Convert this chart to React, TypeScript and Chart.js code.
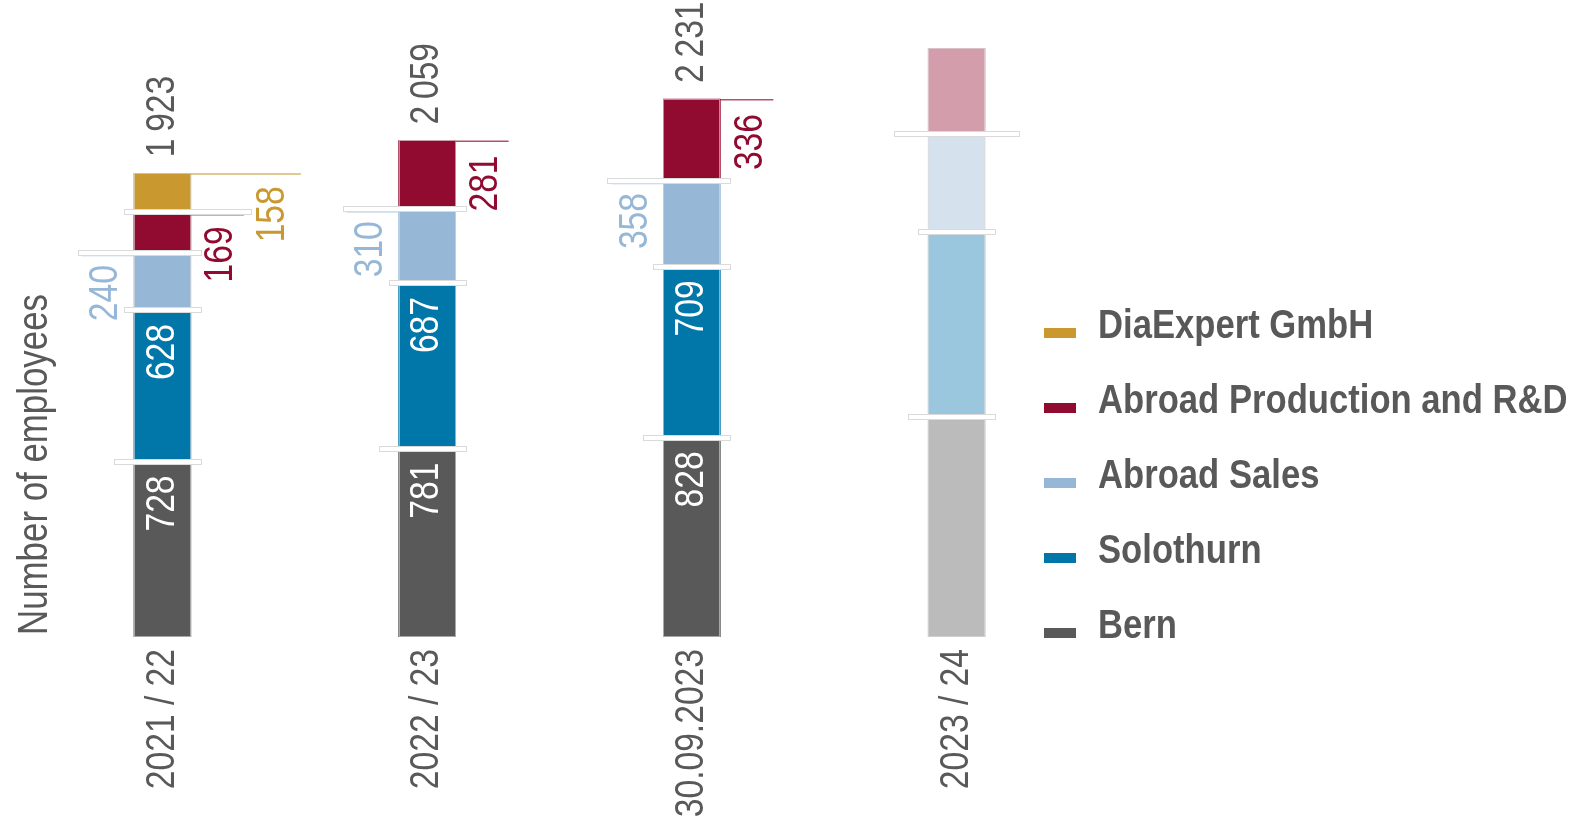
import React, { useEffect, useRef } from "react";
import { Chart, registerables } from "chart.js";

Chart.register(...registerables);

// ---- data ----
const categories = ["2021 / 22", "2022 / 23", "30.09.2023", "2023 / 24"];
const bern = [728, 781, 828, 913];
const solothurn = [628, 687, 709, 768];
const abroadSales = [240, 310, 358, 407];
const abroadProduction = [169, 281, 336, 353];
const diaExpert = [158, null, null, null];
const seriesNames = ["Bern", "Solothurn", "Abroad Sales", "Abroad Production and R&D", "DiaExpert GmbH"];
const labelledCategories = [true, true, true, false];
const axisTitle = "Number of employees";

// ---- styles ----
const seriesColors = ["#595959", "#0077a8", "#97b7d6", "#910a2f", "#c9982f"];
const forecastColors = ["#bbbbbb", "#9bc7de", "#d5e2ee", "#d49dab", "#e4cc97"];
const labelSides = ["inside", "inside", "left", "right", "far"];
const TEXT = "#595959";
const FONT = "'Liberation Sans', Arial, sans-serif";
const NARROW = 0.82; // emulate a condensed face

const seriesData = [bern, solothurn, abroadSales, abroadProduction, diaExpert];

function fmt(n: number): string {
  if (n >= 1000) return `${Math.floor(n / 1000)}\u2009${String(n % 1000).padStart(3, "0")}`;
  return String(n);
}

function drawText(
  ctx: CanvasRenderingContext2D,
  text: string,
  x: number,
  y: number,
  opts: { rotate?: boolean; align: CanvasTextAlign; baseline?: CanvasTextBaseline; font: string; color: string; sx?: number }
) {
  ctx.save();
  ctx.translate(x, y);
  if (opts.rotate) ctx.rotate(-Math.PI / 2);
  ctx.scale(opts.sx ?? NARROW, 1);
  ctx.font = opts.font;
  ctx.textAlign = opts.align;
  ctx.textBaseline = opts.baseline ?? "middle";
  ctx.fillStyle = opts.color;
  ctx.fillText(text, 0, 0);
  ctx.restore();
}

const VALUE_FONT = `41px ${FONT}`;
const rot = (ctx: CanvasRenderingContext2D, t: string, x: number, y: number, align: CanvasTextAlign, color: string) =>
  drawText(ctx, t, x, y, { rotate: true, align, font: VALUE_FONT, color });

const LEADER = { left: 52, right: 53, far: 110 };

const segmentPlugin = {
  id: "segmentDecor",
  afterDatasetsDraw(chart: any) {
    const ctx: CanvasRenderingContext2D = chart.ctx;
    const nDs = chart.data.datasets.length;
    categories.forEach((_, i) => {
      const segs: any[] = [];
      for (let d = 0; d < nDs; d++) {
        const v = chart.data.datasets[d].data[i];
        const el = chart.getDatasetMeta(d).data[i];
        if (v == null || !el) continue;
        const p = el.getProps(["x", "y", "base", "width"], true);
        segs.push({ d, v, top: p.y, bottom: p.base, left: p.x - p.width / 2, right: p.x + p.width / 2, cx: p.x });
      }
      const show = labelledCategories[i];
      // faint bar edges
      segs.forEach((s) => {
        ctx.save();
        ctx.strokeStyle = "rgba(220,220,220,0.6)";
        ctx.lineWidth = 1;
        ctx.strokeRect(Math.round(s.left) + 0.5, Math.round(s.top) + 0.5, Math.round(s.right - s.left) - 1, Math.round(s.bottom - s.top) - 1);
        ctx.restore();
      });
      // leader lines
      if (show) {
        segs.forEach((s, k) => {
          const side = labelSides[s.d];
          if (side === "inside") return;
          const isTop = k === segs.length - 1;
          const y = isTop ? s.top + 0.75 : s.top + 3.5;
          ctx.save();
          ctx.strokeStyle = seriesColors[s.d];
          ctx.globalAlpha = 0.7;
          ctx.lineWidth = 1.5;
          ctx.beginPath();
          if (side === "left") {
            ctx.moveTo(s.left, y);
            ctx.lineTo(s.left - LEADER.left, y);
          } else {
            const len = side === "far" ? LEADER.far : LEADER.right;
            ctx.moveTo(s.right, y);
            ctx.lineTo(s.right + len, y);
          }
          ctx.stroke();
          ctx.restore();
        });
      }
      // separator tabs
      segs.forEach((s, k) => {
        if (k === segs.length - 1) return;
        const side = labelSides[s.d];
        let le = k === 0 ? 20 : 10;
        let re = 10;
        if (show && side === "left") le = LEADER.left + 4;
        if (show && side === "right") re = LEADER.right + 7;
        if (show && side === "far") re = LEADER.far + 7;
        if (!show && k === segs.length - 2) {
          le = 34;
          re = 34;
        }
        const x0 = Math.round(s.left - le) + 0.5;
        const x1 = Math.round(s.right + re) + 0.5;
        const y0 = Math.round(s.top - 2.5) + 0.5;
        ctx.save();
        ctx.fillStyle = "#ffffff";
        ctx.strokeStyle = "#dadada";
        ctx.lineWidth = 1;
        ctx.fillRect(x0, y0, x1 - x0, 5);
        ctx.strokeRect(x0, y0, x1 - x0, 5);
        ctx.restore();
      });
      if (!show) return;
      // value labels
      segs.forEach((s) => {
        const side = labelSides[s.d];
        const txt = fmt(s.v);
        if (side === "inside") rot(ctx, txt, s.cx, s.top + 14, "right", "#ffffff");
        else if (side === "left") rot(ctx, txt, s.left - 28, s.top + 13, "right", seriesColors[s.d]);
        else if (side === "right") rot(ctx, txt, s.right + 30, s.top + 15, "right", seriesColors[s.d]);
        else rot(ctx, txt, s.right + 82, s.top + 13, "right", seriesColors[s.d]);
      });
      // total
      const total = segs.reduce((a, s) => a + s.v, 0);
      const top = segs[segs.length - 1];
      rot(ctx, fmt(total), top.cx, top.top - 16, "left", TEXT);
    });
  },
};

// axis labels and title drawn from the library's scales (condensed look)
const axisTextPlugin = {
  id: "axisText",
  afterDraw(chart: any) {
    const ctx: CanvasRenderingContext2D = chart.ctx;
    const xs = chart.scales.x;
    const ys = chart.scales.y;
    xs.ticks.forEach((t: any, i: number) => {
      const px = xs.getPixelForTick(i);
      drawText(ctx, String(xs.getLabelForValue(t.value)), px, xs.top + 12, {
        rotate: true,
        align: "right",
        font: `41px ${FONT}`,
        color: TEXT,
      });
    });
    drawText(ctx, axisTitle, 35, ys.bottom - 2, { rotate: true, align: "left", font: `42px ${FONT}`, color: TEXT, sx: 0.83 });
  },
};

const LEGEND = { x: 1044, top: 338, gap: 75, box: 32, boxH: 10, textX: 1098 };

const legendPlugin = {
  id: "sideLegend",
  afterDraw(chart: any) {
    const ctx: CanvasRenderingContext2D = chart.ctx;
    const ds = chart.data.datasets;
    for (let r = 0; r < ds.length; r++) {
      const k = ds.length - 1 - r;
      const base = LEGEND.top + r * LEGEND.gap;
      ctx.save();
      ctx.fillStyle = seriesColors[k];
      ctx.fillRect(LEGEND.x, base - LEGEND.boxH, LEGEND.box, LEGEND.boxH);
      ctx.restore();
      drawText(ctx, ds[k].label, LEGEND.textX, base, {
        align: "left",
        baseline: "alphabetic",
        font: `bold 41px ${FONT}`,
        color: TEXT,
        sx: 0.845,
      });
    }
  },
};

export default function App() {
  const ref = useRef<HTMLCanvasElement | null>(null);
  useEffect(() => {
    if (!ref.current) return;
    const chart = new Chart(ref.current, {
      type: "bar",
      data: {
        labels: categories,
        datasets: seriesData.map((s, k) => ({
          label: seriesNames[k],
          data: s,
          backgroundColor: categories.map((_, i) => (labelledCategories[i] ? seriesColors[k] : forecastColors[k])),
          borderWidth: 0,
          barThickness: 57,
          stack: "s",
        })),
      },
      options: {
        responsive: false,
        animation: false,
        devicePixelRatio: 1,
        layout: { padding: { top: 10, right: 482, left: 0, bottom: 0 } },
        plugins: { legend: { display: false }, tooltip: { enabled: false } },
        scales: {
          x: {
            stacked: true,
            offset: true,
            grid: { display: false, drawTicks: false },
            border: { display: false },
            ticks: { display: false, autoSkip: false },
            afterFit: (s: any) => {
              s.height = 192;
            },
          },
          y: {
            stacked: true,
            min: 0,
            max: 2600,
            grid: { display: false },
            border: { display: false },
            ticks: { display: false },
            afterFit: (s: any) => {
              s.width = 30;
            },
          },
        },
      } as any,
      plugins: [segmentPlugin, axisTextPlugin, legendPlugin],
    });
    return () => chart.destroy();
  }, []);
  return (
    <div style={{ position: "absolute", left: 0, top: 0, width: 1571, height: 829, background: "#fff" }}>
      <canvas ref={ref} width={1571} height={829} style={{ display: "block" }} />
    </div>
  );
}
